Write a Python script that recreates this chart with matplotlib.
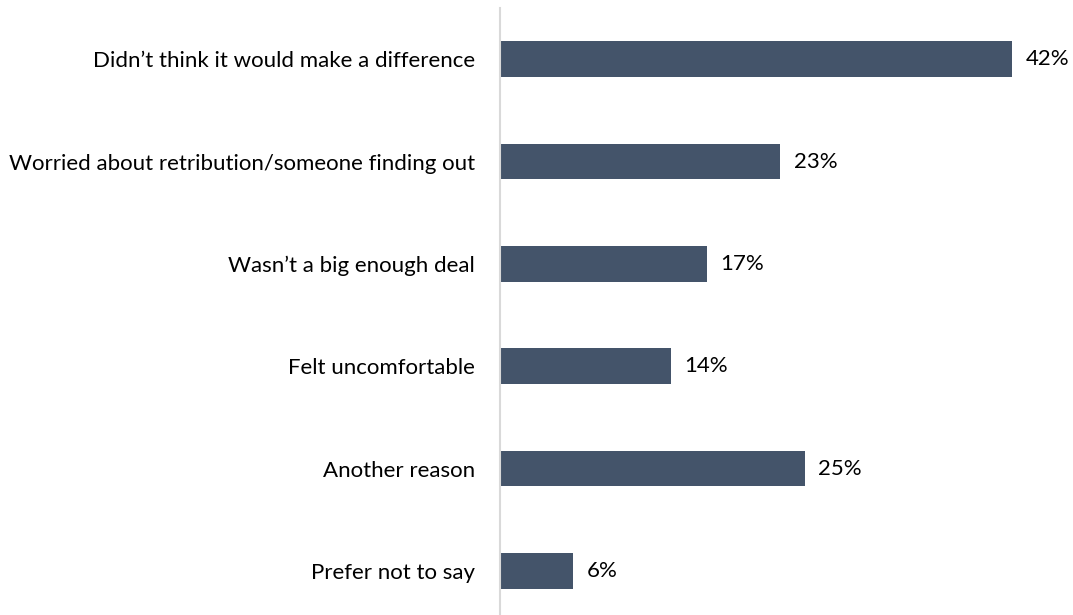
import matplotlib
matplotlib.use("Agg")
import matplotlib.pyplot as plt

categories = [
    "Didn\u2019t think it would make a difference",
    "Worried about retribution/someone finding out",
    "Wasn\u2019t a big enough deal",
    "Felt uncomfortable",
    "Another reason",
    "Prefer not to say",
]
values = [42, 23, 17, 14, 25, 6]

bar_color = "#44546A"
font = "Lato"
fsize = 16

fig = plt.figure(figsize=(10.73, 6.15), dpi=100)
ax = fig.add_axes([500 / 1073, -7 / 615, 542 / 1073, 614 / 615])

y = list(range(len(categories)))
ax.barh(y, values, height=0.35, color=bar_color, zorder=2)
ax.set_ylim(len(categories) - 0.5, -0.5)
ax.set_xlim(0, 44.45)

for yi, v in zip(y, values):
    ax.annotate(f"{v}%", xy=(v, yi), xytext=(9.5, 0), textcoords="offset points",
                va="center", ha="left", fontsize=fsize, family=font, color="#000000",
                annotation_clip=False)

ax.set_yticks(y)
ax.set_yticklabels(categories, fontsize=fsize, family=font, color="#000000")
ax.tick_params(axis="y", length=0, pad=18)
ax.set_xticks([])

for s in ["top", "right", "bottom"]:
    ax.spines[s].set_visible(False)
ax.spines["left"].set_color("#D9D9D9")
ax.spines["left"].set_linewidth(1.5)

fig.savefig("out.png", dpi=100)
